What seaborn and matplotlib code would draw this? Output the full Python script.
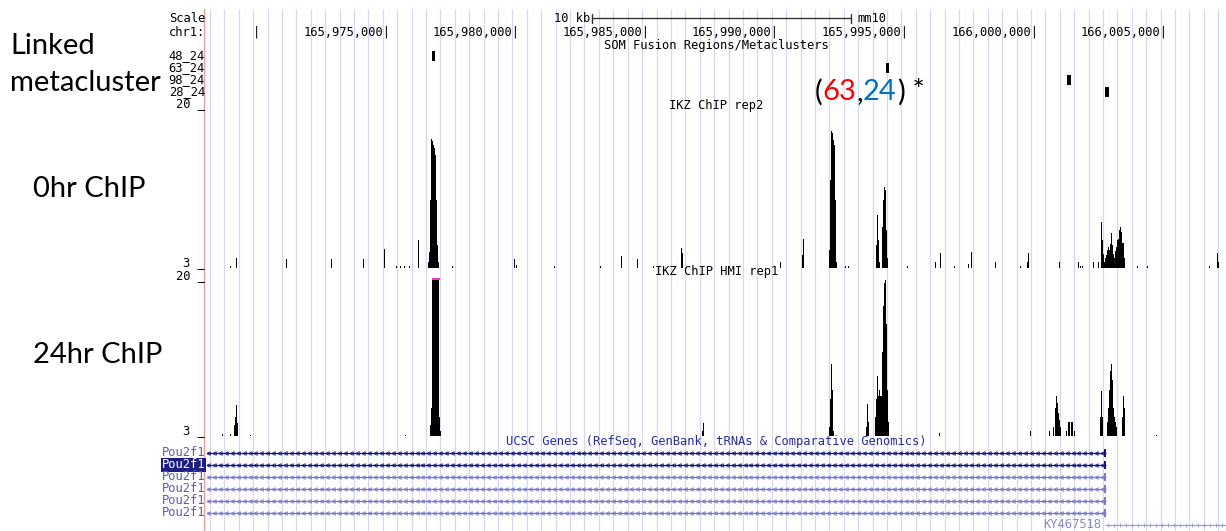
import numpy as np
import pandas as pd
import matplotlib
matplotlib.use("Agg")
import matplotlib.pyplot as plt
import seaborn as sns

# ---------------- data ----------------
view_start = 165_968_000
view_end = 166_007_300
bin_bp = 38.57

scale_bar = [165_982_850, 165_992_850]
chrom_ticks = [165_970_000, 165_975_000, 165_980_000, 165_985_000,
               165_990_000, 165_995_000, 166_000_000, 166_005_000]
chrom_tick_labels = ["", "165,975,000", "165,980,000", "165,985,000",
                     "165,990,000", "165,995,000", "166,000,000", "166,005,000"]

meta_names = ["48_24", "63_24", "98_24", "28_24"]
meta_starts = [165_976_680, 165_994_190, 166_001_170, 166_002_640]
meta_ends = [165_976_790, 165_994_300, 166_001_320, 166_002_790]

chip0_pos = [165968910, 165969140, 165971070, 165972800, 165974040, 165974850,
             165975310, 165975460, 165975620, 165975810, 165976160,
             165976540, 165976580, 165976620, 165976660, 165976700, 165976740,
             165976770, 165976810, 165976850, 165976890, 165976930,
             165977470, 165979860, 165979940, 165981400, 165983180, 165983990,
             165984600, 165985220, 165986300, 165986340, 165990120, 165990970,
             165991010, 165992010, 165992050, 165992090, 165992130, 165992160,
             165992200, 165992240, 165992280, 165992630, 165992740,
             165993820, 165993860, 165993900, 165993940, 165994050, 165994090,
             165994130, 165994170, 165994210, 165994250, 165995020, 165996100,
             165996290, 165996830, 165997370, 165997490, 165998410, 165999380,
             165999650, 165999690, 166000880, 166001610, 166001690, 166001770,
             166002190, 166002380, 166002500, 166002540, 166002580, 166002620,
             166002650, 166002690, 166002730, 166002770, 166002810, 166002850,
             166002890, 166002920, 166002960, 166003000, 166003040, 166003080,
             166003120, 166003160, 166003190, 166003230, 166003270, 166003310,
             166003350, 166003390, 166003890, 166004270, 166006670, 166006970,
             166007010]
chip0_val = [3.2, 4.0, 3.9, 3.9, 3.9, 5.0,
             3.2, 3.2, 3.2, 3.2, 5.9,
             3.6, 4.7, 10.1, 16.5, 16.3, 15.9,
             15.6, 14.9, 10.1, 5.4, 3.6,
             3.2, 3.9, 3.3, 3.2, 3.2, 4.3,
             3.9, 3.2, 5.1, 4.6, 3.6, 4.4,
             6.0, 4.9, 12.2, 17.4, 17.2, 16.4,
             15.9, 10.1, 3.6, 3.2, 3.2,
             5.4, 8.6, 5.9, 3.6, 7.3, 10.1,
             11.5, 11.2, 7.0, 4.0, 3.2, 3.6,
             4.6, 3.2, 3.4, 4.7, 3.6, 3.2,
             3.6, 4.6, 3.6, 3.6, 3.2, 3.2,
             3.6, 3.6, 7.8, 5.9, 4.5, 3.6,
             4.0, 4.4, 4.9, 5.2, 4.9, 5.5,
             6.7, 5.4, 4.5, 4.0, 4.8, 5.2,
             5.9, 6.0, 7.0, 7.3, 6.8, 5.6,
             5.6, 4.0, 3.2, 3.2, 3.2, 4.6,
             3.6]

chip24_pos = [165968600, 165968910, 165969060, 165969100, 165969140, 165969180,
              165969680, 165975660, 165976620, 165976660, 165976700, 165976740,
              165976770, 165976810, 165976850, 165976890, 165976930, 165976970,
              165977010, 165987110, 165987150, 165992010, 165992050, 165992090,
              165992130, 165992160, 165993440, 165993480, 165993510, 165993780,
              165993820, 165993860, 165993900, 165993940, 165993980, 165994020,
              165994050, 165994090, 165994130, 165994170, 165994210, 165994250,
              165994290, 165996250, 165999760, 166000500, 166000650, 166000730,
              166000760, 166000800, 166000840, 166000880, 166000920, 166001150,
              166001230, 166001270, 166001340, 166001380, 166001460, 166002460,
              166002500, 166002540, 166002730, 166002770, 166002810, 166002850,
              166002890, 166002920, 166002960, 166003000, 166003040, 166003080,
              166003310, 166003350, 166003390, 166004620]
chip24_val = [3.2, 3.2, 4.2, 5.0, 6.3, 4.4,
              3.1, 3.1, 4.2, 6.0, 21, 21,
              21, 21, 21, 21, 21, 5.0,
              3.5, 3.5, 4.4, 4.0, 7.0, 10.7,
              8.0, 3.5, 4.0, 6.4, 4.5, 5.0,
              7.0, 9.5, 7.3, 8.0, 7.3, 7.3,
              12.0, 17.0, 19.5, 19.8, 15.0, 8.0,
              4.5, 3.3, 3.5, 3.5, 4.0, 6.0,
              7.3, 6.5, 5.5, 4.7, 4.0, 3.5,
              4.5, 4.5, 4.5, 4.5, 3.5, 5.0,
              7.8, 5.0, 4.5, 6.0, 8.0, 10.0,
              10.7, 9.0, 6.0, 5.0, 4.5, 4.0,
              5.0, 7.3, 6.0, 3.1]
chip_range = [3, 20]

gene_names = ["Pou2f1", "Pou2f1", "Pou2f1", "Pou2f1", "Pou2f1", "Pou2f1"]
gene_start = 165_860_000
gene_end = 166_002_680
exon_start = 166_002_580
other_name = "KY467518"
other_start = 166_002_640
other_end = 166_030_000

# ---------------- layout helpers ----------------
W, H = 1226, 531
sns.set_theme(style="white")
plt.rcParams["font.family"] = ["DejaVu Sans"]
plt.rcParams["text.color"] = "black"
fig = plt.figure(figsize=(W / 100, H / 100), dpi=100)
fig.patch.set_facecolor("white")

def fx(px):
    return px / W

def fy(py):
    return 1 - py / H

def add_ax(x0, y0, x1, y1):
    a = fig.add_axes([x0 / W, 1 - y1 / H, (x1 - x0) / W, (y1 - y0) / H])
    a.set_xlim(view_start, view_end)
    a.patch.set_alpha(0)
    a.axis("off")
    return a

DATA_L = 207
MONO = "DejaVu Sans Mono"
SMALL = 8.7

# background with guide lines
bg = add_ax(DATA_L, 0, W, H)
bg.set_ylim(H, 0)
grid_step = 555.5
grid = np.arange(view_start + 116, view_end, grid_step)
bg.vlines(grid, 9, H, color="#d5d9f0", lw=0.9, zorder=0)

# red separator line
fig.add_artist(plt.Line2D([fx(204), fx(204)], [fy(9), fy(H)], color="#f09a9a", lw=1.0))

# Scale row
fig.text(fx(205), fy(18), "Scale", ha="right", va="center", family=MONO, fontsize=SMALL)
bg.plot(scale_bar, [18, 18], color="#333333", lw=1.0)
bg.plot([scale_bar[0]] * 2, [13.5, 22.5], color="#333333", lw=1.0)
bg.plot([scale_bar[1]] * 2, [13.5, 22.5], color="#333333", lw=1.0)
bg.text(scale_bar[0] - 60, 18, "10 kb", ha="right", va="center", family=MONO, fontsize=SMALL)
bg.text(scale_bar[1] + 250, 18, "mm10", ha="left", va="center", family=MONO, fontsize=SMALL)

# chromosome ticks
fig.text(fx(205), fy(32), "chr1:", ha="right", va="center", family=MONO, fontsize=SMALL)
for t, lab in zip(chrom_ticks, chrom_tick_labels):
    bg.text(t + 60, 32, lab + "|", ha="right", va="center", family=MONO, fontsize=SMALL)

mid = (view_start + view_end) / 2
bg.text(mid, 45, "SOM Fusion Regions/Metaclusters", ha="center", va="center",
        family=MONO, fontsize=SMALL)

# metacluster track
axm = add_ax(DATA_L, 50, W, 98)
axm.barh(np.arange(len(meta_names)), np.array(meta_ends) - np.array(meta_starts),
         left=meta_starts, height=0.85, color="black", linewidth=0)
axm.set_ylim(len(meta_names) - 0.5, -0.5)
for i, n in enumerate(meta_names):
    fig.text(fx(205), fy(56 + 12 * i), n, ha="right", va="center", family=MONO, fontsize=SMALL)

# ChIP tracks
def chip_track(pos, val, y0, y1, title, title_y):
    a = add_ax(DATA_L, y0, W, y1)
    df = pd.DataFrame({"pos": pos, "val": val})
    sns.histplot(data=df, x="pos", weights="val", binwidth=bin_bp,
                 binrange=(view_start, view_end), ax=a, color="black", alpha=1,
                 linewidth=0, edgecolor="black", antialiased=False)
    a.set_ylim(*chip_range)
    a.set_xlim(view_start, view_end)
    a.axis("off")
    clipped = [p for p, v in zip(pos, val) if v > chip_range[1]]
    if clipped:
        a.scatter(clipped, [chip_range[1] - 0.15] * len(clipped), marker="s", s=3,
                  color="#ff33cc", linewidths=0, zorder=5, clip_on=False)
    fig.text(fx(205), fy(y0 - 2), "20 _", ha="right", va="center", family=MONO, fontsize=SMALL)
    fig.text(fx(205), fy(y1 - 5), "3 _", ha="right", va="center", family=MONO, fontsize=SMALL)
    bg.text(mid, title_y, title, ha="center", va="center", family=MONO, fontsize=SMALL, zorder=6)
    return a

chip_track(chip0_pos, chip0_val, 106, 268, "IKZ ChIP rep2", 105)
chip_track(chip24_pos, chip24_val, 278, 436, "IKZ ChIP HMI rep1", 272)

# Genes track
bg.text(mid, 441, "UCSC Genes (RefSeq, GenBank, tRNAs & Comparative Genomics)", ha="center",
        va="center", family=MONO, fontsize=SMALL, color="#2a2aa0")
axg = add_ax(DATA_L, 447, W, 531)
axg.set_ylim(6.5, -0.5)
line_cols = ["#15157f", "#15157f", "#7a7ac8", "#7a7ac8", "#7a7ac8", "#7a7ac8"]
chev = np.arange(gene_end - 150, view_start, -230)
for i, (n, c) in enumerate(zip(gene_names, line_cols)):
    axg.hlines(i, gene_start, gene_end, color=c, lw=0.9)
    axg.plot(chev, [i] * len(chev), ls="none", marker="<", ms=2.6, mfc="none", mec=c, mew=0.6)
    axg.barh(i, gene_end - exon_start, left=exon_start, height=0.65, color=c, linewidth=0)
    if i == 1:
        fig.text(fx(205), fy(453 + 12 * i), n, ha="right", va="center", family=MONO,
                 fontsize=SMALL, color="white",
                 bbox=dict(boxstyle="square,pad=0.08", fc="#1c1c82", ec="none"))
    else:
        fig.text(fx(205), fy(453 + 12 * i), n, ha="right", va="center", family=MONO,
                 fontsize=SMALL, color="#5a5ab4")
axg.hlines(6, other_start, other_end, color="#9a9ad6", lw=0.9)
chev2 = np.arange(other_start + 120, view_end, 230)
axg.plot(chev2, [6] * len(chev2), ls="none", marker="|", ms=3, mec="#9a9ad6", mew=0.6)
axg.text(other_start - 150, 6, other_name, ha="right", va="center", family=MONO,
         fontsize=SMALL, color="#8a8ac8")

# big annotations
BIG = ["Lato", "DejaVu Sans"]
BS = 21
fig.text(fx(10), fy(46), "Linked", ha="left", va="center", family=BIG, fontsize=BS, color="black")
fig.text(fx(10), fy(83), "metacluster", ha="left", va="center", family=BIG, fontsize=BS, color="black")
fig.text(fx(33), fy(189), "0hr ChIP", ha="left", va="center", family=BIG, fontsize=BS, color="black")
fig.text(fx(33), fy(355), "24hr ChIP", ha="left", va="center", family=BIG, fontsize=BS, color="black")

renderer = fig.canvas.get_renderer()
xcur = 815
for s, c in [("(", "black"), ("63", "#ff0000"), (",", "black"), ("24", "#0070c0"),
             (")", "black"), (" *", "black")]:
    t = fig.text(fx(xcur), fy(92), s, ha="left", va="center", family=BIG, fontsize=BS, color=c)
    xcur += t.get_window_extent(renderer=renderer).width

fig.savefig("out.png", dpi=100)
